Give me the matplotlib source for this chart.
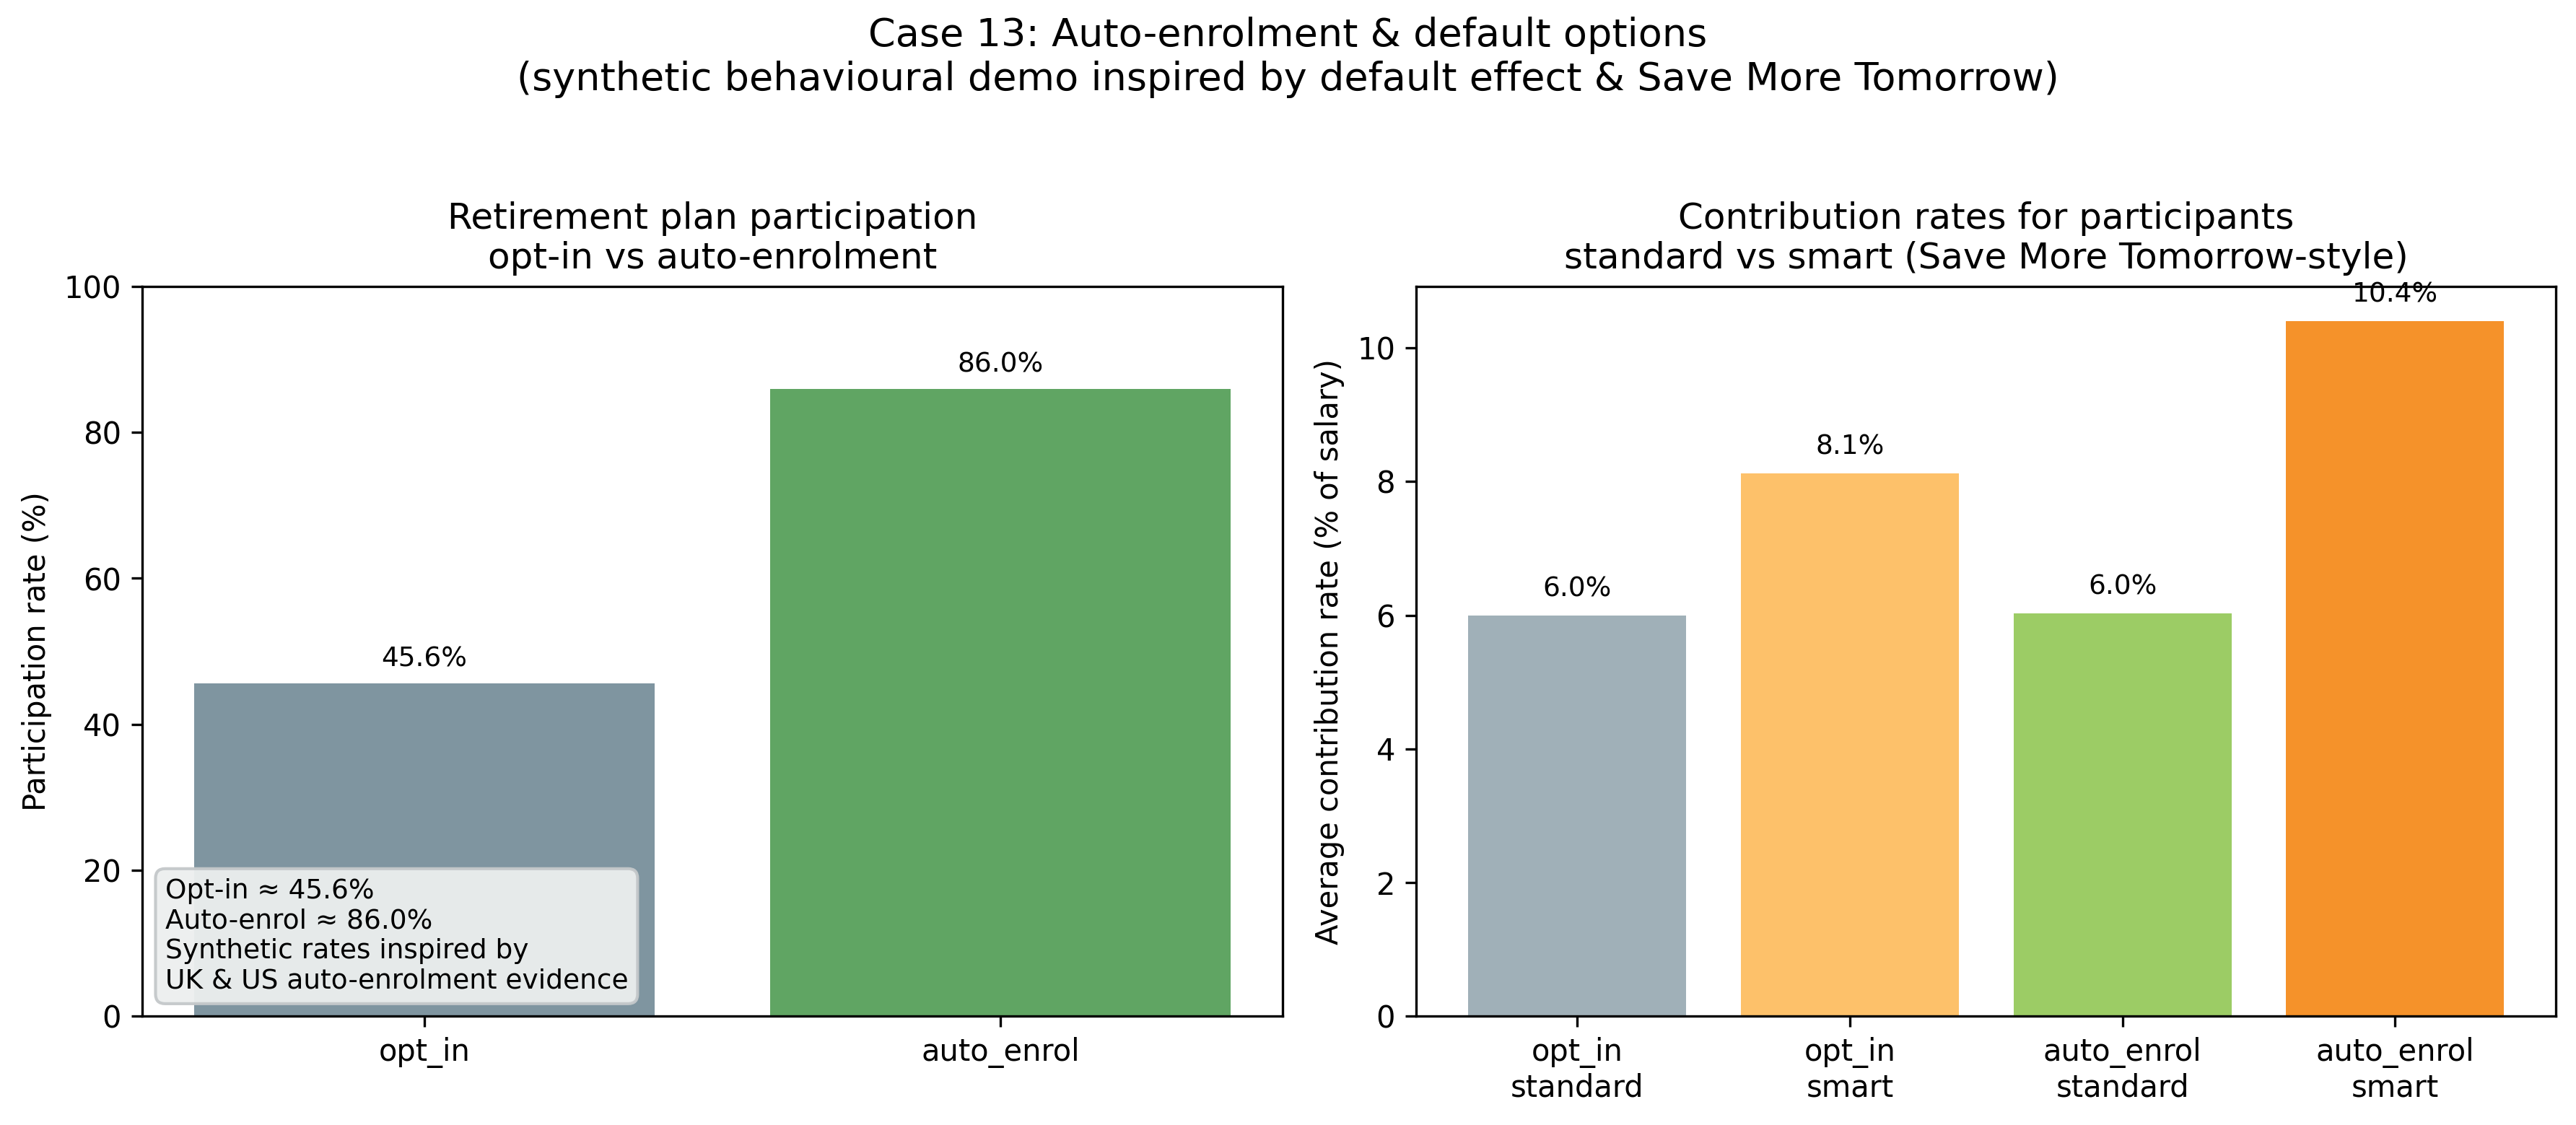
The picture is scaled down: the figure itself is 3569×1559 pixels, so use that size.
import matplotlib
matplotlib.use("Agg")
import matplotlib.pyplot as plt

# participation (left panel)
part_groups = ["opt_in", "auto_enrol"]
part_rates = [45.6, 86.0]
part_colors = ["#7f95a0", "#60a563"]

# contribution rates (right panel)
contrib_labels = ["opt_in\nstandard", "opt_in\nsmart", "auto_enrol\nstandard", "auto_enrol\nsmart"]
contrib_rates = [6.0, 8.12, 6.03, 10.4]
contrib_colors = ["#a0b0b8", "#fdc16a", "#9ccc65", "#f5922a"]

fig = plt.figure(figsize=(11.897, 5.197), dpi=300)
ax1 = fig.add_axes([0.0552, 0.0968, 0.4427, 0.6485])
ax2 = fig.add_axes([0.5498, 0.0968, 0.4424, 0.6485])

fig.suptitle("Case 13: Auto-enrolment & default options\n"
             "(synthetic behavioural demo inspired by default effect & Save More Tomorrow)",
             fontsize=13, y=0.985)

# left: participation
x1 = range(len(part_groups))
ax1.bar(x1, part_rates, color=part_colors, width=0.8)
ax1.set_xticks(list(x1))
ax1.set_xticklabels(part_groups)
ax1.set_ylim(0, 100)
ax1.set_ylabel("Participation rate (%)")
ax1.set_title("Retirement plan participation\nopt-in vs auto-enrolment", fontsize=12)
for i, v in enumerate(part_rates):
    ax1.text(i, v + 1.5, f"{v:.1f}%", ha="center", va="bottom", fontsize=9)
ax1.text(0.02, 0.03,
         f"Opt-in \u2248 {part_rates[0]:.1f}%\nAuto-enrol \u2248 {part_rates[1]:.1f}%\n"
         "Synthetic rates inspired by\nUK & US auto-enrolment evidence",
         transform=ax1.transAxes, ha="left", va="bottom", fontsize=9,
         bbox=dict(boxstyle="round,pad=0.35", facecolor="#ecefef", edgecolor="#c4c8ca", alpha=0.95))

# right: contribution rates
x2 = range(len(contrib_labels))
ax2.bar(x2, contrib_rates, color=contrib_colors, width=0.8)
ax2.set_xticks(list(x2))
ax2.set_xticklabels(contrib_labels)
ax2.set_ylabel("Average contribution rate (% of salary)")
ax2.set_title("Contribution rates for participants\nstandard vs smart (Save More Tomorrow-style)", fontsize=12)
for i, v in enumerate(contrib_rates):
    ax2.text(i, v + 0.2, f"{v:.1f}%", ha="center", va="bottom", fontsize=9)

fig.savefig("out.png", dpi=300)
